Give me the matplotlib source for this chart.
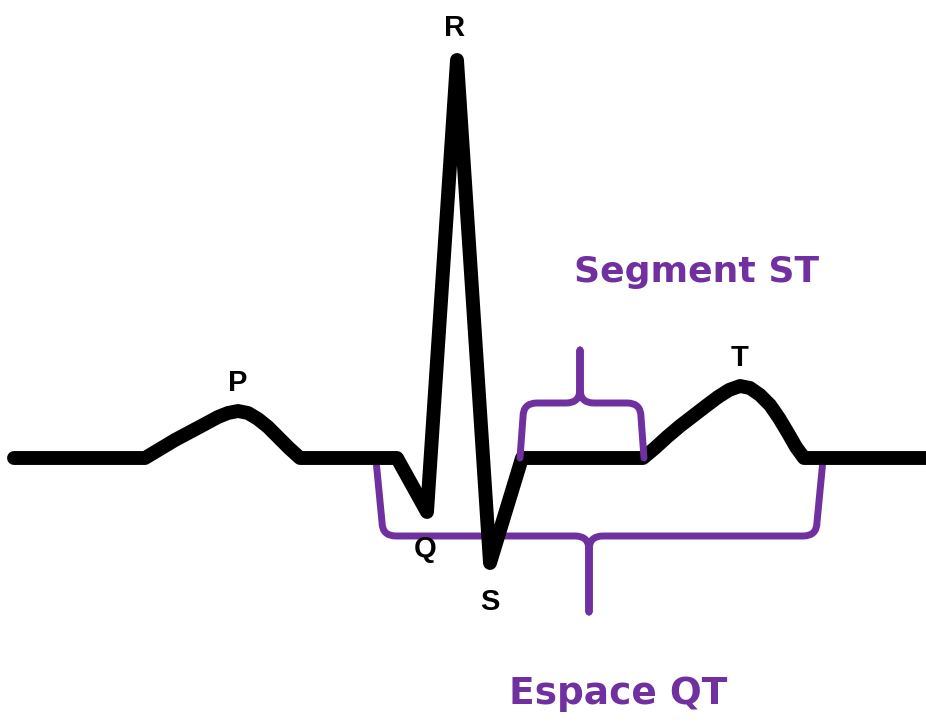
import matplotlib
matplotlib.use('Agg')
import matplotlib.pyplot as plt
from matplotlib.path import Path
from matplotlib.patches import PathPatch


# ECG trace, pixel-like coordinates (y grows downward)
ecg_x = [14, 145, 160, 175, 190, 205, 218, 228, 238, 248, 258, 268, 278, 289, 300,
         397, 427, 457, 490, 522,
         643, 655, 667, 680, 693, 706, 718, 729, 740, 750, 760, 770, 779, 788,
         796, 804, 926]
ecg_y = [458, 458, 449, 440, 432, 424, 417, 413, 411, 413, 419, 427, 437, 448, 458,
         458, 512, 60, 563, 458,
         458, 448, 437, 426, 416, 406, 397, 390, 386, 388, 395, 405, 418, 433,
         447, 458, 458]

# wave labels
wave_names = ['P', 'Q', 'R', 'S', 'T']
wave_x = [238, 425, 455, 490, 740]
wave_y = [383, 549, 28, 602, 358]

# braces: left x, right x, tip x, leg end y, bar y, tip y, leg lean
st_brace = [520, 644, 580, 458, 403, 350, 3]
qt_brace = [376, 823, 589, 460, 536, 612, 6]

# interval names
interval_names = ['Segment ST', 'Espace QT']
interval_x = [697, 618]
interval_y = [272, 694]
interval_size = [26, 27]

purple = '#7030a0'


def brace_path(x0, x1, xt, y_end, y_bar, y_tip, lean, r=14):
    s = 1 if y_tip > y_bar else -1  # side of the bar the tip points to
    verts = [
        (x0, y_end), (x0 + lean, y_bar - s * r), (x0 + lean, y_bar), (x0 + lean + r, y_bar),
        (xt - r, y_bar), (xt, y_bar), (xt, y_bar + s * r), (xt, y_tip),
        (xt, y_bar + s * r), (xt, y_bar), (xt + r, y_bar),
        (x1 - lean - r, y_bar), (x1 - lean, y_bar), (x1 - lean, y_bar - s * r), (x1, y_end),
    ]
    codes = [Path.MOVETO, Path.LINETO, Path.CURVE3, Path.CURVE3,
             Path.LINETO, Path.CURVE3, Path.CURVE3, Path.LINETO,
             Path.LINETO, Path.CURVE3, Path.CURVE3,
             Path.LINETO, Path.CURVE3, Path.CURVE3, Path.LINETO]
    return Path(verts, codes)


fig = plt.figure(figsize=(9.26, 7.22), dpi=100)
ax = fig.add_axes([0, 0, 1, 1])
ax.set_xlim(0, 926)
ax.set_ylim(722, 0)
ax.axis('off')

ax.add_patch(PathPatch(brace_path(*qt_brace), fill=False, ec=purple, lw=5,
                       capstyle='round', joinstyle='round', zorder=1))
ax.plot(ecg_x, ecg_y, c='black', lw=10, solid_joinstyle='round',
        solid_capstyle='round', zorder=2)
ax.add_patch(PathPatch(brace_path(*st_brace), fill=False, ec=purple, lw=5,
                       capstyle='round', joinstyle='round', zorder=3))

for name, x, y in zip(wave_names, wave_x, wave_y):
    ax.text(x, y, name, ha='center', va='center', fontsize=21,
            fontweight='bold', family='Liberation Sans', color='black')

for name, x, y, fs in zip(interval_names, interval_x, interval_y, interval_size):
    ax.text(x, y, name, ha='center', va='center', fontsize=fs,
            fontweight='bold', family='DejaVu Sans', color=purple)

fig.savefig('out.png', dpi=100)
